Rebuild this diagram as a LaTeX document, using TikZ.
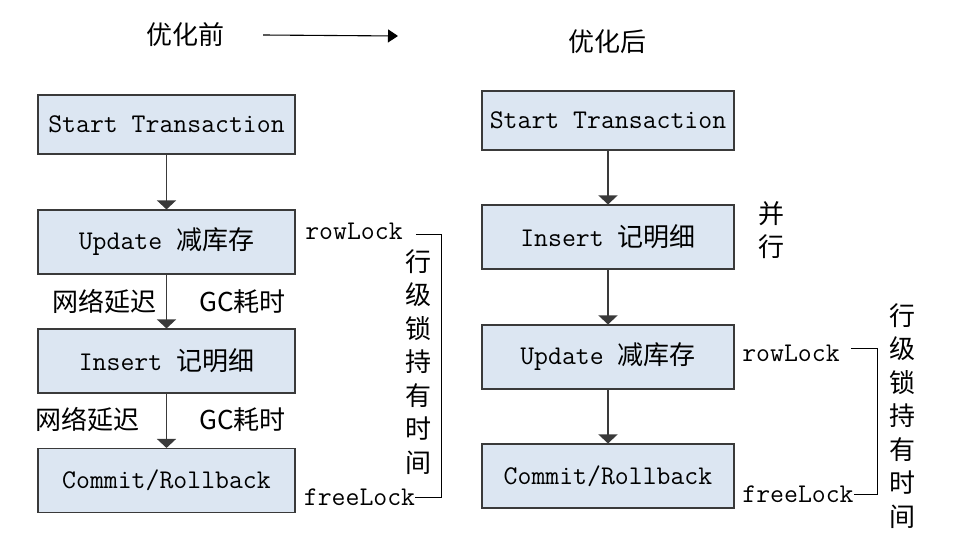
\documentclass[tikz,border=0pt]{standalone}
\usepackage{fontspec}
\usepackage{tikz}
\usetikzlibrary{arrows.meta,positioning}
\newfontfamily\cjk{Noto Sans CJK SC}
\definecolor{boxfill}{HTML}{DCE6F2}
\definecolor{boxline}{HTML}{3A3A3A}

\tikzset{
  stepbox/.style={draw=boxline,fill=boxfill,line width=1.1pt,inner sep=0pt,
    minimum width=257pt,minimum height=64pt},
  txt/.style={inner sep=0pt,font=\fontsize{27}{30}\selectfont\ttfamily},
  cn/.style={inner sep=0pt,font=\fontsize{26}{30}\selectfont\cjk},
  vcn/.style={inner sep=0pt,align=center,font=\fontsize{26}{33.5}\selectfont\cjk},
  flow/.style={draw=boxline,line width=1.1pt,-{Triangle[width=19pt,length=9pt]}},
  hold/.style={draw=black,line width=0.9pt},
}

\begin{document}
\begin{tikzpicture}[x=1pt,y=-1pt]
      \useasboundingbox (0,0) rectangle (954,538);

      % before
      \path
      (185,35) node[cn](pre) {优化前}
      (398,36) coordinate(preEnd)
      (166.5,124.5) node[stepbox,txt,minimum height=59pt](l1) {Start Transaction}
      (166.5,242) node[stepbox,txt](l2) {Update {\cjk\fontsize{26}{30}\selectfont 减库存}}
      (166.5,361) node[stepbox,txt](l3) {Insert {\cjk\fontsize{26}{30}\selectfont 记明细}}
      (166.5,480.5) node[stepbox,txt](l4) {Commit/Rollback}
      (104.5,302) node[cn](delay1) {网络延迟}
      (242.5,302) node[cn](gc1) {GC耗时}
      (87.5,420) node[cn](delay2) {网络延迟}
      (242.5,420) node[cn](gc2) {GC耗时}
      (354,231) node[txt](lrow) {rowLock}
      (359.5,497) node[txt](lfree) {freeLock}
      (418,362) node[vcn](lhold) {行\\级\\锁\\持\\有\\时\\间}
      ;

      % after
      \path
      (607,42) node[cn](post) {优化后}
      (608,120.5) node[stepbox,txt,minimum width=252pt,minimum height=59pt](r1) {Start Transaction}
      (608,237) node[stepbox,txt,minimum width=252pt](r2) {Insert {\cjk\fontsize{26}{30}\selectfont 记明细}}
      (608,357) node[stepbox,txt,minimum width=252pt](r3) {Update {\cjk\fontsize{26}{30}\selectfont 减库存}}
      (608,476) node[stepbox,txt,minimum width=252pt](r4) {Commit/Rollback}
      (771,230) node[vcn](par) {并\\行}
      (791,353) node[txt](rrow) {rowLock}
      (798,494) node[txt](rfree) {freeLock}
      (902,416) node[vcn](rhold) {行\\级\\锁\\持\\有\\时\\间}
      ;

      \draw[line width=1.1pt,-{Triangle[width=13pt,length=10pt]}] ([xshift=39pt]pre.east) -- (preEnd);

      \draw[flow] (l1) -- (l2);
      \draw[flow] (l2) -- (l3);
      \draw[flow] (l3) -- (l4);
      \draw[flow] (r1) -- (r2);
      \draw[flow] (r2) -- (r3);
      \draw[flow] (r3) -- (r4);

      \draw[hold] ([xshift=13pt,yshift=-3pt]lrow.east) -- ++(26,0) |- (lfree.east);
      \draw[hold] ([xshift=11pt,yshift=5pt]rrow.east) -- ++(27,0) |- (rfree.east);
    \end{tikzpicture}
\end{document}
